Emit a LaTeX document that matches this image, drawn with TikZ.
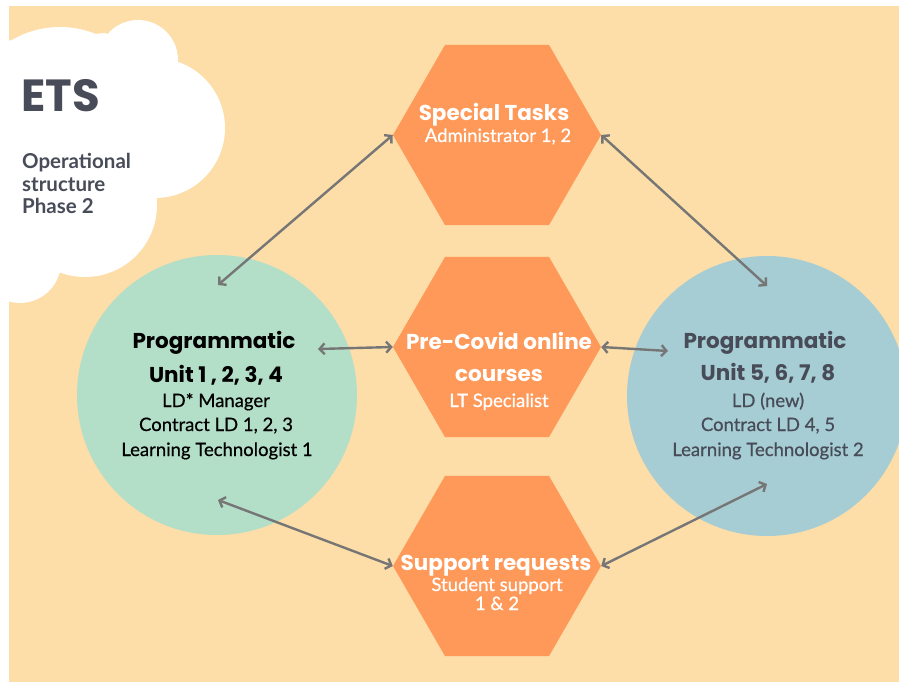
\documentclass[tikz,border=0pt]{standalone}
\usepackage{fontspec}
\setmainfont{Lato}
\newfontfamily\headfont{Poppins}
\newfontfamily\bodyfont{Lato}[FakeBold=0.6]
\usetikzlibrary{shapes.geometric,arrows.meta}
\definecolor{peach}{RGB}{253,221,168}
\definecolor{hexor}{RGB}{254,153,89}
\definecolor{mint}{RGB}{179,223,201}
\definecolor{tealc}{RGB}{166,205,211}
\definecolor{slate}{RGB}{72,76,88}
\definecolor{arrowgray}{RGB}{118,118,118}
\begin{document}
\begin{tikzpicture}[x=1pt,y=-1pt,
  hexagon/.style={regular polygon, regular polygon sides=6, minimum size=208pt, inner sep=0pt, fill=hexor, draw=none},
  unit/.style={circle, minimum size=280pt, inner sep=0pt, draw=none},
  link/.style={draw=arrowgray, line width=2.4pt, {Straight Barb[length=5pt,width=11pt]}-{Straight Barb[length=5pt,width=11pt]}},
  htitle/.style={anchor=base, inner sep=0pt, font=\headfont\bfseries\fontsize{21.5}{21.5}\selectfont},
  hsub/.style={anchor=base, inner sep=0pt, font=\bodyfont\fontsize{18.5}{18.5}\selectfont},
  cloudtxt/.style={anchor=base west, inner sep=0pt, text=slate, font=\bfseries\fontsize{20.5}{20.5}\selectfont}]
\useasboundingbox (0,0) rectangle (899,682);
\clip (0,0) rectangle (899,682);
\fill[white] (0,0) rectangle (899,682);
\fill[peach] (9,6) rectangle (899,682);
% cloud
\begin{scope}[white]
  \fill (0,43) -- (105,33) -- (177,60) -- (157,198) -- (60,273) -- (0,300) -- cycle;
  \fill (60,122) circle (95);
  \fill (138,60) circle (40);
  \fill (155,128) circle (70);
  \fill (85,205) circle (72);
  \fill (20,262) circle (41);
  \fill (0,160) circle (120);
\end{scope}
\node[anchor=base west, inner sep=0pt, text=slate, font=\headfont\bfseries\fontsize{45}{45}\selectfont] (ets) at (21,112) {ETS};
\node[cloudtxt] (op1) at (22,168) {Operational};
\node[cloudtxt] (op2) at (22,191) {structure};
\node[cloudtxt] (op3) at (22,213) {Phase 2};
% units
\node[unit, fill=mint] (left) at (217,395) {};
\node[unit, fill=tealc] (right) at (767,396) {};
% hexagons
\node[hexagon] (special) at (497,135) {};
\node[hexagon] (precovid) at (497,347) {};
\node[hexagon] (support) at (497,566) {};
% texts in hexagons
\node[htitle, text=white] (st1) at (494,121) {Special Tasks};
\node[hsub, text=white] (st2) at (498,142) {Administrator 1, 2};
\node[htitle, text=white] (pc1) at (499,349) {Pre-Covid online};
\node[htitle, text=white] (pc2) at (499,381) {courses};
\node[hsub, text=white] (pc3) at (499,407) {LT Specialist};
\node[htitle, text=white] (sr1) at (496,570) {Support requests};
\node[hsub, text=white] (sr2) at (497,591) {Student support};
\node[hsub, text=white] (sr3) at (497,610) {1 \& 2};
% texts in left unit
\node[htitle, text=black] (l1) at (214,348) {Programmatic};
\node[htitle, text=black] (l2) at (216,382) {Unit 1 , 2, 3, 4};
\node[hsub, text=black] (l3) at (216,407) {LD* Manager};
\node[hsub, text=black] (l4) at (216,431) {Contract LD 1, 2, 3};
\node[hsub, text=black] (l5) at (217,456) {Learning Technologist 1};
% texts in right unit
\node[htitle, text=slate] (r1) at (765,348) {Programmatic};
\node[htitle, text=slate] (r2) at (768,380) {Unit 5, 6, 7, 8};
\node[hsub, text=slate] (r3) at (768,407) {LD (new)};
\node[hsub, text=slate] (r4) at (768,431) {Contract LD 4, 5};
\node[hsub, text=slate] (r5) at (768,456) {Learning Technologist 2};
% connector end points on the units
\coordinate (lt) at (218,285);
\coordinate (lm) at (318,349);
\coordinate (lb) at (218,500);
\coordinate (rt) at (767,286);
\coordinate (rm) at (668,351);
\coordinate (rb) at (767,484);
% connectors
\draw[link] (lt) -- (special.west);
\draw[link] (special.east) -- (rt);
\draw[link] (lm) -- (precovid.west);
\draw[link] (precovid.east) -- (rm);
\draw[link] (lb) -- (support.west);
\draw[link] (support.east) -- (rb);
\end{tikzpicture}
\end{document}
